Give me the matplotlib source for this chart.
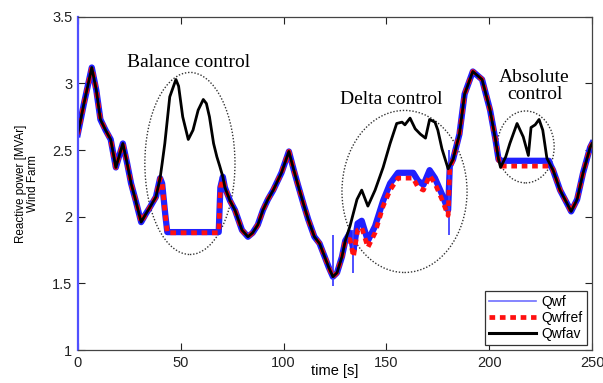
import numpy as np
import matplotlib.pyplot as plt
from matplotlib.lines import Line2D
from matplotlib.patches import Ellipse

# shared stretches (all three curves lie on top of each other here)
t_a = [0, 3, 6.8, 9, 11, 13.5, 16, 18.5, 20, 21.9, 24, 25.9, 28, 30.8, 33, 35, 38, 40]
q_a = [2.62, 2.85, 3.12, 2.95, 2.73, 2.65, 2.58, 2.37, 2.45, 2.55, 2.40, 2.25, 2.13, 1.96, 2.02, 2.07, 2.15, 2.29]

t_b = [71.5, 74, 76.4, 79.8, 82.7, 85, 87.5, 90, 92.4, 95, 99, 102.6, 105, 107, 110, 112, 115,
       117.5, 120, 122, 124, 126, 128.4, 130]
q_b = [2.22, 2.12, 2.05, 1.90, 1.85, 1.88, 1.94, 2.05, 2.13, 2.20, 2.33, 2.49, 2.35, 2.24, 2.08, 1.98, 1.85,
       1.80, 1.70, 1.62, 1.55, 1.58, 1.70, 1.82]

t_c = [182.4, 185.5, 188, 192, 196.5, 200.4, 203, 204.5]
q_c = [2.43, 2.62, 2.92, 3.09, 3.03, 2.80, 2.58, 2.43]

t_d = [230, 231, 234.4, 237.8, 239.8, 242.7, 245.6, 249, 250]
q_d = [2.38, 2.35, 2.20, 2.10, 2.04, 2.13, 2.33, 2.52, 2.55]

# Qwfref inside the control windows
t_ref_bal = [41, 42.5, 43.5, 50, 60, 68.5, 69.3, 70.5]
q_ref_bal = [2.25, 2.02, 1.88, 1.88, 1.88, 1.88, 2.22, 2.28]
t_ref_del = [132.3, 134, 136, 138, 141, 144.5, 148.4, 151.8, 155.6, 160, 163, 165.4, 168, 171, 173.6,
             177, 180, 180.8]
q_ref_del = [1.83, 1.70, 1.90, 1.92, 1.77, 1.88, 2.08, 2.20, 2.29, 2.29, 2.29, 2.22, 2.20, 2.31, 2.25,
             2.13, 2.01, 2.36]
t_ref_abs = [205.5, 229]
q_ref_abs = [2.38, 2.38]

# Qwf inside the control windows
q_wf_bal = [2.25, 2.02, 1.885, 1.885, 1.885, 1.885, 2.22, 2.30]
q_wf_del = [1.88, 1.75, 1.95, 1.97, 1.82, 1.93, 2.12, 2.25, 2.33, 2.33, 2.33, 2.27, 2.24, 2.35, 2.29,
            2.17, 2.05, 2.38]
q_wf_abs = [2.42, 2.42]
spike_t = [124, 134, 180.2]
spike_lo = [1.48, 1.58, 1.86]
spike_hi = [1.86, 1.90, 2.50]

# Qwfav inside the control windows
t_av_bal = [41, 42.3, 44.7, 47.7, 49, 51, 53.7, 56, 58.5, 61, 62.5, 64, 66, 67.6, 69, 70.5]
q_av_bal = [2.40, 2.55, 2.90, 3.03, 2.98, 2.75, 2.58, 2.65, 2.80, 2.88, 2.85, 2.75, 2.55, 2.45, 2.38, 2.30]
t_av_del = [132.3, 135.7, 138, 141, 144.5, 148.4, 151.8, 155, 157.6, 159, 161.5, 164, 166.5, 169, 171,
            173.6, 175, 177, 180]
q_av_del = [1.93, 2.13, 2.20, 2.08, 2.20, 2.37, 2.55, 2.70, 2.71, 2.69, 2.74, 2.66, 2.62, 2.59, 2.73,
            2.71, 2.65, 2.51, 2.36]
t_av_abs = [205.5, 208, 210, 213.5, 216.5, 219, 220.3, 222.3, 224.2, 226, 228]
q_av_abs = [2.37, 2.45, 2.55, 2.70, 2.60, 2.46, 2.67, 2.69, 2.73, 2.65, 2.44]

t_ref = np.concatenate([t_a, t_ref_bal, t_b, t_ref_del, t_c, t_ref_abs, t_d])
q_ref = np.concatenate([q_a, q_ref_bal, q_b, q_ref_del, q_c, q_ref_abs, q_d])
q_wf = np.concatenate([q_a, q_wf_bal, q_b, q_wf_del, q_c, q_wf_abs, q_d])
t_av = np.concatenate([t_a, t_av_bal, t_b, t_av_del, t_c, t_av_abs, t_d])
q_av = np.concatenate([q_a, q_av_bal, q_b, q_av_del, q_c, q_av_abs, q_d])

fig = plt.figure(figsize=(6.03, 3.83), dpi=100)
ax = fig.add_axes([0.129, 0.086, 0.853, 0.870])

blue = '#2020ff'
ax.plot(t_ref, q_wf, color=blue, lw=4.5, solid_joinstyle='round')
ax.vlines(spike_t, spike_lo, spike_hi, color='#4040ff', lw=1.3)
ax.plot(t_ref, q_ref, color='#ff1010', lw=3.4, linestyle=(0, (1.2, 1.0)), dash_capstyle='butt')
ax.plot(t_av, q_av, color='black', lw=2.0)

# dotted ellipses around the three control windows
for (cx, cy, w, h) in [(54.5, 2.40, 43.8, 1.366), (158.8, 2.19, 60.8, 1.216), (217.7, 2.524, 27.7, 0.54)]:
    ax.add_patch(Ellipse((cx, cy), w, h, fill=False, ls=(0, (1, 1.3)), lw=1.0, ec='#333333'))

serif = dict(family='Liberation Serif', fontsize=14, ha='center', va='center')
ax.text(54, 3.16, 'Balance control', **serif)
ax.text(152.5, 2.88, 'Delta control', **serif)
ax.text(222, 2.98, 'Absolute\ncontrol', linespacing=1.0, **serif)

ax.set_xlim(0, 250)
ax.set_ylim(1, 3.5)
ax.set_xticks([0, 50, 100, 150, 200, 250])
ax.set_yticks([1, 1.5, 2, 2.5, 3, 3.5])
ax.set_yticklabels(['1', '1.5', '2', '2.5', '3', '3.5'])
ax.tick_params(direction='in', top=True, right=True, length=5, width=0.8,
               labelsize=10.5, colors='#222222', pad=4)
for lab in ax.get_xticklabels() + ax.get_yticklabels():
    lab.set_family('Liberation Sans')
for s in ax.spines.values():
    s.set_color('#444444')
    s.set_linewidth(0.9)
ax.spines['left'].set_color('#5050ff')
ax.spines['left'].set_linewidth(1.6)

ax.set_xlabel('time [s]', family='Liberation Sans', fontsize=10.5)
ax.xaxis.set_label_coords(0.5, -0.042)
ax.set_ylabel('Reactive power [MVAr]\nWind Farm', family='Liberation Sans', fontsize=8.4,
              linespacing=1.05, labelpad=9)

handles = [Line2D([], [], color='#7070ff', lw=1.2),
           Line2D([], [], color='#ff1010', lw=3.4, linestyle=(0, (1.2, 1.0)), dash_capstyle='butt'),
           Line2D([], [], color='black', lw=2.2)]
leg = ax.legend(handles, ['Qwf', 'Qwfref', 'Qwfav'], loc='lower right', fancybox=False,
                framealpha=1, edgecolor='#333333', handlelength=3.4, borderpad=0.3,
                labelspacing=0.15, handletextpad=0.4, borderaxespad=0.35,
                prop={'family': 'Liberation Sans', 'size': 10})
leg.get_frame().set_linewidth(0.9)

fig.savefig('out.png', dpi=100, facecolor='white')
